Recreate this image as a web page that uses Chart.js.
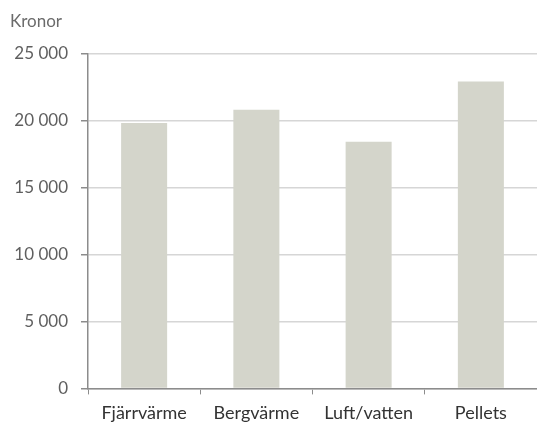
<!DOCTYPE html>
<html>
<head>
<meta charset="utf-8">
<script src="https://cdn.jsdelivr.net/npm/chart.js@4"></script>
<style>
  html, body { margin: 0; padding: 0; background: #fff; }
  #wrap { width: 537px; height: 426px; }
</style>
</head>
<body>
<div id="wrap"><canvas id="myChart"></canvas></div>
<script>
// data
const categories = ["Fjärrvärme", "Bergvärme", "Luft/vatten", "Pellets"];
const costs = [19800, 20800, 18400, 22900];
const yTicks = [0, 5000, 10000, 15000, 20000, 25000];
const unitLabel = "Kronor";

const fmt = (v) => String(v).replace(/\B(?=(\d{3})+(?!\d))/g, ' ');

const ctx = document.getElementById('myChart').getContext('2d');
const myChart = new Chart(ctx, {
    type: 'bar',
    data: {
        labels: categories,
        datasets: [{
            data: costs,
            backgroundColor: '#d4d5cb',
            categoryPercentage: 1,
            barPercentage: 0.41
        }]
    },
    options: {
        responsive: true,
        maintainAspectRatio: false,
        animation: false,
        layout: { padding: { left: 10, right: 0, top: 0, bottom: -6 } },
        plugins: {
            legend: { display: false },
            tooltip: { enabled: false },
            title: {
                display: true,
                text: unitLabel,
                align: 'start',
                color: '#6b6b6b',
                font: { family: 'Lato', size: 17, weight: 'normal' },
                padding: { top: 11, bottom: 22 }
            }
        },
        scales: {
            x: {
                grid: {
                    display: true,
                    drawOnChartArea: false,
                    offset: true,
                    tickLength: 6,
                    tickColor: '#8c8c8c'
                },
                border: { display: true, color: '#8c8c8c', width: 1.5 },
                ticks: {
                    color: '#333333',
                    padding: 8,
                    font: { family: 'Lato', size: 18 }
                }
            },
            y: {
                min: yTicks[0],
                max: yTicks[yTicks.length - 1],
                afterFit: (scale) => { scale.width = 78; },
                afterBuildTicks: (scale) => {
                    scale.ticks = yTicks.map(v => ({ value: v }));
                },
                grid: {
                    color: '#d6d6d6',
                    lineWidth: 1.5,
                    tickLength: 7,
                    tickColor: '#8c8c8c'
                },
                border: { display: true, color: '#8c8c8c', width: 1.5 },
                ticks: {
                    color: '#5f5f5f',
                    padding: 13,
                    font: { family: 'Lato', size: 17 },
                    callback: (v) => fmt(v)
                }
            }
        }
    }
});
</script>
</body>
</html>
